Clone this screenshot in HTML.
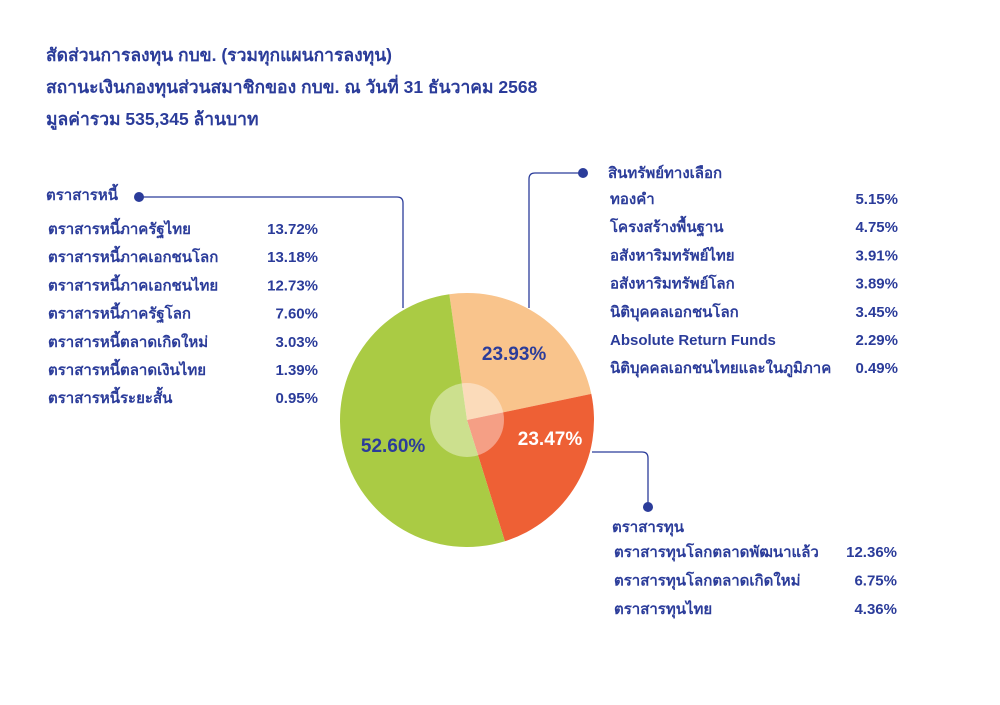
<!DOCTYPE html>
<html><head><meta charset="utf-8"><style>
body{margin:0;background:#fff;}
svg text{font-family:"Liberation Sans","Noto Sans CJK SC",sans-serif;font-weight:bold;fill:#2B3C9A;}
</style></head><body>
<svg width="1000" height="700" viewBox="0 0 1000 700">
<g>
<text x="46" y="61" font-size="17.5">สัดส่วนการลงทุน กบข. (รวมทุกแผนการลงทุน)</text>
<text x="46" y="93" font-size="17.5">สถานะเงินกองทุนส่วนสมาชิกของ กบข. ณ วันที่ 31 ธันวาคม 2568</text>
<text x="46" y="125" font-size="17.5">มูลค่ารวม 535,345 ล้านบาท</text>
</g>
<g id="pie"></g>
<g fill="none" stroke="#2B3C9A" stroke-width="1.3">
<path d="M139 197 H397 Q403 197 403 203 V308"/>
<path d="M583 173 H535 Q529 173 529 179 V308"/>
<path d="M592 452 H642 Q648 452 648 458 V507"/>
</g>
<circle cx="139" cy="197" r="5" fill="#2B3C9A"/>
<circle cx="583" cy="173" r="5" fill="#2B3C9A"/>
<circle cx="648" cy="507" r="5" fill="#2B3C9A"/>
<g id="lists"></g>
</svg>
<script>
const categories=["สินทรัพย์ทางเลือก","ตราสารทุน","ตราสารหนี้"];
const shares=[23.93,23.47,52.60];
const colors=["#F9C48C","#EE6035","#AACB44"];
const labelColors=["#2B3C9A","#ffffff","#2B3C9A"];
const bondNames=["ตราสารหนี้ภาครัฐไทย","ตราสารหนี้ภาคเอกชนโลก","ตราสารหนี้ภาคเอกชนไทย","ตราสารหนี้ภาครัฐโลก","ตราสารหนี้ตลาดเกิดใหม่","ตราสารหนี้ตลาดเงินไทย","ตราสารหนี้ระยะสั้น"];
const bondValues=[13.72,13.18,12.73,7.60,3.03,1.39,0.95];
const altNames=["ทองคำ","โครงสร้างพื้นฐาน","อสังหาริมทรัพย์ไทย","อสังหาริมทรัพย์โลก","นิติบุคคลเอกชนโลก","Absolute Return Funds","นิติบุคคลเอกชนไทยและในภูมิภาค"];
const altValues=[5.15,4.75,3.91,3.89,3.45,2.29,0.49];
const eqNames=["ตราสารทุนโลกตลาดพัฒนาแล้ว","ตราสารทุนโลกตลาดเกิดใหม่","ตราสารทุนไทย"];
const eqValues=[12.36,6.75,4.36];

const NS="http://www.w3.org/2000/svg";
const cx=467,cy=420,R=127;
const startAngle=-8*Math.PI/180;
const pie=document.getElementById('pie');
const total=shares.reduce((a,b)=>a+b,0);
function pt(a,r){return [cx+r*Math.sin(a),cy-r*Math.cos(a)];}
let a0=startAngle;
shares.forEach((v,i)=>{
  const a1=a0+v/total*2*Math.PI;
  const [x0,y0]=pt(a0,R),[x1,y1]=pt(a1,R);
  const p=document.createElementNS(NS,'path');
  p.setAttribute('d',`M${cx} ${cy} L${x0} ${y0} A${R} ${R} 0 ${a1-a0>Math.PI?1:0} 1 ${x1} ${y1} Z`);
  p.setAttribute('fill',colors[i]);
  
  
  pie.appendChild(p);
  a0=a1;
});
const hole=document.createElementNS(NS,'circle');
hole.setAttribute('cx',cx);hole.setAttribute('cy',cy);hole.setAttribute('r',37);
hole.setAttribute('fill','rgba(255,255,255,0.4)');


pie.appendChild(hole);
a0=startAngle;
const labelR=[82,85,78];
const labelShift=[0,-18,-6];
shares.forEach((v,i)=>{
  const a1=a0+v/total*2*Math.PI;
  const am=(a0+a1)/2+labelShift[i]*Math.PI/180;
  const [x,y]=pt(am,labelR[i]);
  const t=document.createElementNS(NS,'text');
  t.setAttribute('x',x);t.setAttribute('y',y+7);
  t.setAttribute('text-anchor','middle');t.setAttribute('font-size','19');
  t.style.fill=labelColors[i];
  t.textContent=v.toFixed(2)+'%';
  
  
  pie.appendChild(t);
  a0=a1;
});
const lists=document.getElementById('lists');
function txt(x,y,s,anchor,size){
  const t=document.createElementNS(NS,'text');
  t.setAttribute('x',x);t.setAttribute('y',y);t.setAttribute('font-size',size||15);
  if(anchor)t.setAttribute('text-anchor',anchor);
  t.textContent=s;lists.appendChild(t);return t;
}
function group(title,tx,ty,names,vals,nx,vx,y0,step){
  const h=txt(tx,ty,title);
  
  
  names.forEach((n,i)=>{
    const a=txt(nx,y0+i*step,n);
    
    
    const b=txt(vx,y0+i*step,vals[i].toFixed(2)+'%','end');
    
    
  });
}
group(categories[2],46,200,bondNames,bondValues,48,318,234,28.2);
group(categories[0],608,178,altNames,altValues,610,898,204,28.2);
group(categories[1],612,532,eqNames,eqValues,614,897,557,28.5);
</script>
</body></html>
